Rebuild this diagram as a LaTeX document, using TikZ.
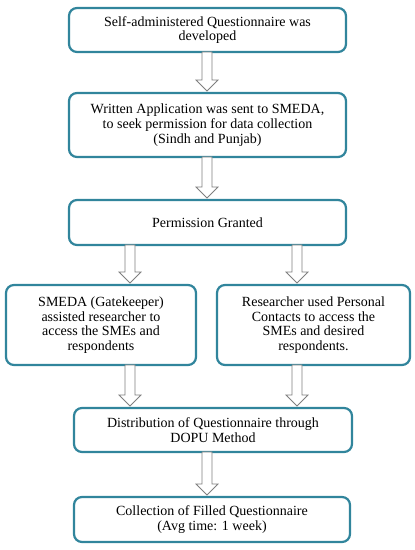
\documentclass[tikz,border=0pt]{standalone}
\usepackage{fontspec}
\setmainfont{Liberation Serif}
\usetikzlibrary{calc}
\definecolor{boxteal}{HTML}{31859C}
\definecolor{arrowgray}{HTML}{7F7F7F}
\tikzset{
  flowbox/.style={draw=boxteal, line width=2.2pt, rounded corners=8pt, fill=white,
    align=center, inner sep=0pt, outer sep=0pt,
    font=\fontsize{14}{14.7}\selectfont},
  barrow/.style={draw=arrowgray, line width=0.8pt, fill=white, line join=miter}
}
\newcommand\blockarrow[2]{%
  \draw[barrow] let \p1=(#1), \p2=(#2) in
    (\x1-5pt,\y1) -- (\x1-5pt,\y2+13pt) -- (\x1-11pt,\y2+13pt) -- (\x1,\y2+2pt)
    -- (\x1+11pt,\y2+13pt) -- (\x1+5pt,\y2+13pt) -- (\x1+5pt,\y1) -- cycle;}
\begin{document}
\begin{tikzpicture}[x=1pt,y=1pt]
\useasboundingbox (0,0) rectangle (415,550);
\node[flowbox, minimum width=277pt, minimum height=44pt] (b1) at (207.5,520)
  {Self-administered Questionnaire was\\developed};
\node[flowbox, minimum width=277pt, minimum height=64pt] (b2) at (207.5,425)
  {Written Application was sent to SMEDA,\\to seek permission for data collection\\(Sindh and Punjab)};
\node[flowbox, minimum width=277pt, minimum height=45pt] (b3) at (207.5,327.5)
  {Permission Granted};
\node[flowbox, minimum width=190pt, minimum height=80pt] (b4) at (101,225)
  {SMEDA (Gatekeeper)\\assisted researcher to\\access the SMEs and\\respondents};
\node[flowbox, minimum width=193pt, minimum height=80pt] (b5) at (313.5,225)
  {Researcher used Personal\\Contacts to access the\\SMEs and desired\\respondents.};
\node[flowbox, minimum width=278pt, minimum height=44pt] (b6) at (213,120)
  {Distribution of Questionnaire through\\DOPU Method};
\node[flowbox, minimum width=276pt, minimum height=45pt] (b7) at (212,30.5)
  {Collection of Filled Questionnaire\\(Avg time: 1 week)};
\coordinate (xl) at (130,0);
\coordinate (xr) at (297,0);
\coordinate (xm) at (207,0);
\coordinate (s1) at (b1.south -| xm);
\coordinate (e1) at (b2.north -| xm);
\blockarrow{s1}{e1}
\coordinate (s2) at (b2.south -| xm);
\coordinate (e2) at (b3.north -| xm);
\blockarrow{s2}{e2}
\coordinate (s3) at (b3.south -| xl);
\coordinate (e3) at (b4.north -| xl);
\blockarrow{s3}{e3}
\coordinate (s4) at (b3.south -| xr);
\coordinate (e4) at (b5.north -| xr);
\blockarrow{s4}{e4}
\coordinate (s5) at (b4.south -| xl);
\coordinate (e5) at (b6.north -| xl);
\blockarrow{s5}{e5}
\coordinate (s6) at (b5.south -| xr);
\coordinate (e6) at (b6.north -| xr);
\blockarrow{s6}{e6}
\coordinate (s7) at (b6.south -| xm);
\coordinate (e7) at (b7.north -| xm);
\blockarrow{s7}{e7}
\end{tikzpicture}
\end{document}
